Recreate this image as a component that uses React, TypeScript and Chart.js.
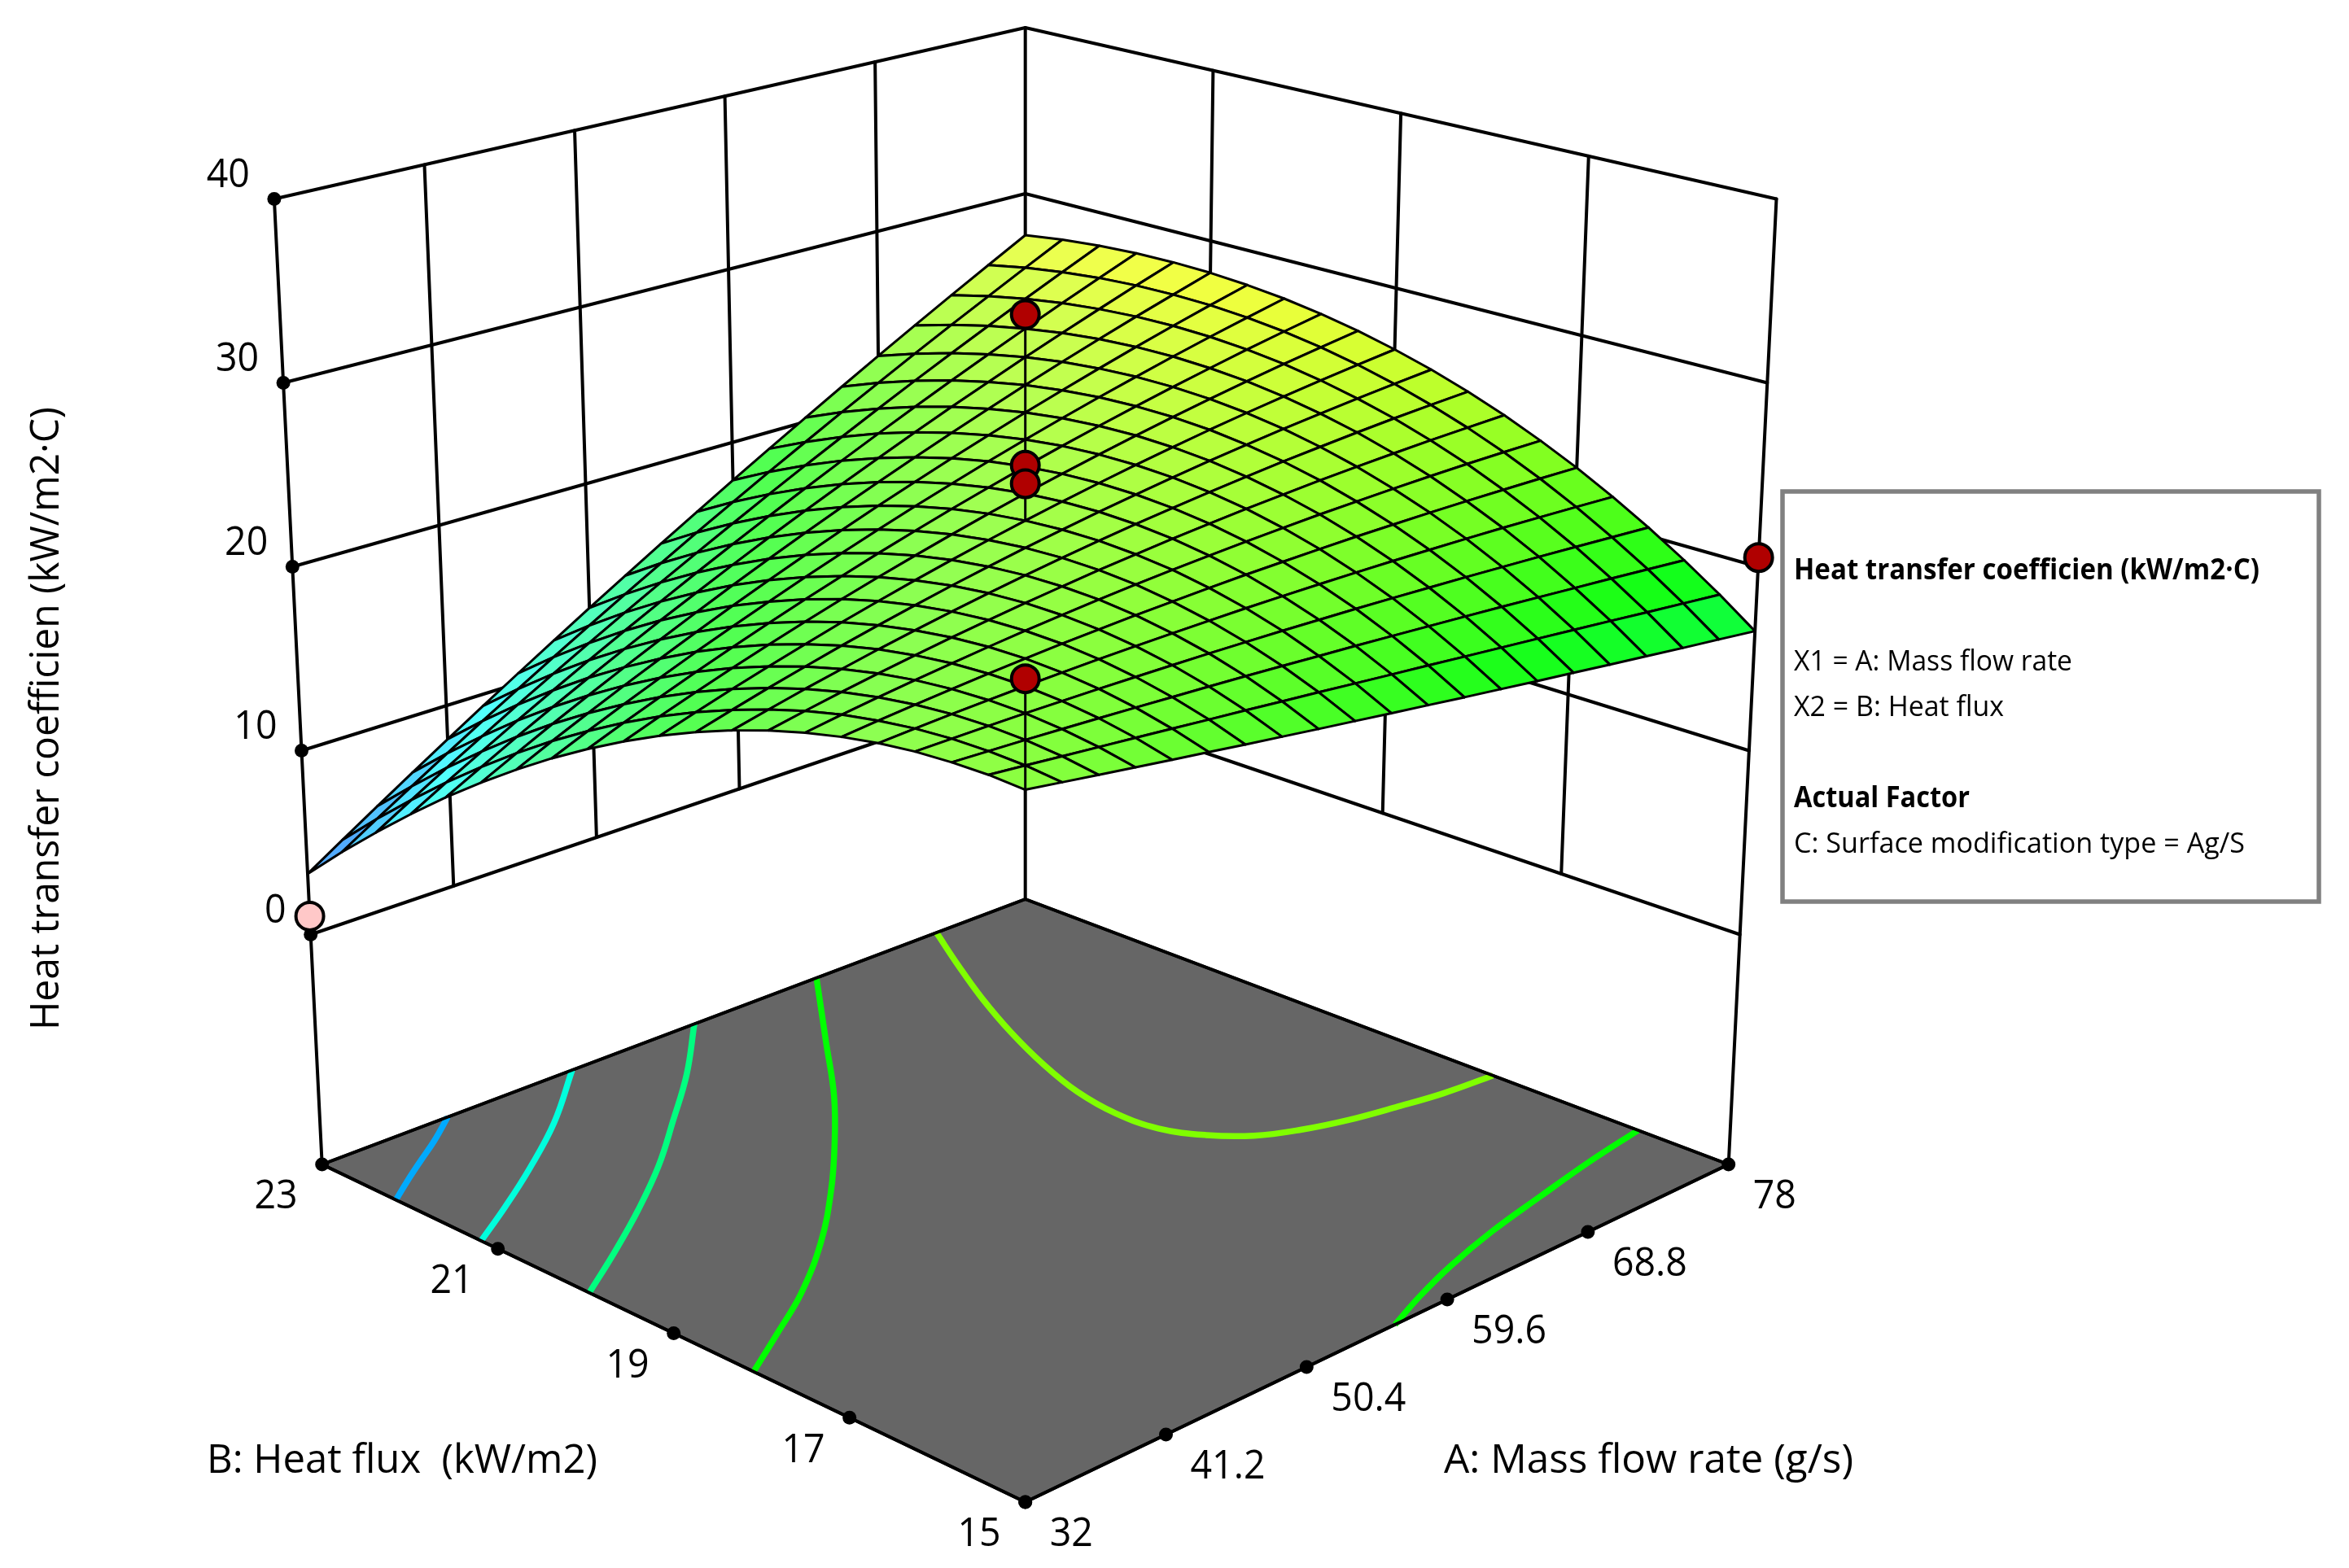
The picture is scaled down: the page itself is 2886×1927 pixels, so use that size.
import React, { useEffect, useRef } from "react";
import { Chart, registerables } from "chart.js";

Chart.register(...registerables);

const WIDTH = 2886;
const HEIGHT = 1927;
const FONT = '"Open Sans"';

// ---- data ----
const massFlowTicks = [32, 41.2, 50.4, 59.6, 68.8, 78];
const heatFluxTicks = [15, 17, 19, 21, 23];
const responseTicks = [0, 10, 20, 30, 40];
const massFlowLabels = ["32", "41.2", "50.4", "59.6", "68.8", "78"];
const heatFluxLabels = ["15", "17", "19", "21", "23"];
const responseLabels = ["0", "10", "20", "30", "40"];

// Mesh nodes: 21 mass flow values (32 to 78) for each of 21 heat flux values (15 to 23)
const meshMassFlow = [32, 34.3, 36.6, 38.9, 41.2, 43.5, 45.8, 48.1, 50.4, 52.7, 55, 57.3, 59.6, 61.9, 64.2, 66.5, 68.8, 71.1, 73.4, 75.7, 78];
const meshHeatFlux = [15, 15.4, 15.8, 16.2, 16.6, 17, 17.4, 17.8, 18.2, 18.6, 19, 19.4, 19.8, 20.2, 20.6, 21, 21.4, 21.8, 22.2, 22.6, 23];
const surfaceHTC = [
  [22.80, 22.49, 22.17, 21.86, 21.54, 21.23, 20.91, 20.60, 20.28, 19.97, 19.65, 19.34, 19.02, 18.71, 18.39, 18.08, 17.76, 17.45, 17.13, 16.82, 16.50],
  [22.86, 22.65, 22.43, 22.21, 21.99, 21.76, 21.53, 21.30, 21.06, 20.82, 20.57, 20.32, 20.07, 19.81, 19.55, 19.29, 19.02, 18.75, 18.47, 18.19, 17.91],
  [22.80, 22.69, 22.58, 22.45, 22.32, 22.18, 22.03, 21.88, 21.72, 21.55, 21.37, 21.19, 21.00, 20.80, 20.60, 20.39, 20.17, 19.94, 19.71, 19.47, 19.22],
  [22.65, 22.63, 22.61, 22.58, 22.53, 22.48, 22.41, 22.34, 22.26, 22.16, 22.06, 21.94, 21.82, 21.68, 21.53, 21.38, 21.21, 21.04, 20.85, 20.65, 20.45],
  [22.38, 22.46, 22.53, 22.58, 22.63, 22.66, 22.68, 22.68, 22.67, 22.65, 22.62, 22.57, 22.51, 22.44, 22.36, 22.26, 22.15, 22.03, 21.89, 21.74, 21.58],
  [22.00, 22.17, 22.33, 22.47, 22.60, 22.72, 22.82, 22.90, 22.97, 23.02, 23.06, 23.09, 23.09, 23.09, 23.07, 23.03, 22.98, 22.91, 22.83, 22.74, 22.63],
  [21.51, 21.78, 22.02, 22.25, 22.46, 22.66, 22.84, 23.00, 23.15, 23.28, 23.39, 23.48, 23.56, 23.62, 23.67, 23.69, 23.70, 23.70, 23.68, 23.64, 23.58],
  [20.92, 21.27, 21.60, 21.91, 22.20, 22.48, 22.74, 22.98, 23.20, 23.41, 23.59, 23.76, 23.91, 24.04, 24.15, 24.25, 24.32, 24.38, 24.42, 24.44, 24.45],
  [20.21, 20.64, 21.06, 21.45, 21.83, 22.18, 22.52, 22.84, 23.14, 23.42, 23.68, 23.92, 24.14, 24.34, 24.52, 24.69, 24.83, 24.96, 25.07, 25.15, 25.22],
  [19.40, 19.91, 20.41, 20.88, 21.34, 21.77, 22.18, 22.58, 22.95, 23.31, 23.64, 23.96, 24.25, 24.53, 24.79, 25.02, 25.24, 25.43, 25.61, 25.77, 25.91],
  [18.48, 19.07, 19.64, 20.19, 20.72, 21.24, 21.73, 22.20, 22.65, 23.08, 23.49, 23.88, 24.25, 24.60, 24.93, 25.25, 25.54, 25.81, 26.06, 26.29, 26.50],
  [17.45, 18.12, 18.76, 19.39, 20.00, 20.58, 21.15, 21.70, 22.22, 22.73, 23.22, 23.69, 24.13, 24.56, 24.97, 25.36, 25.73, 26.08, 26.41, 26.72, 27.01],
  [16.31, 17.05, 17.77, 18.47, 19.15, 19.81, 20.45, 21.07, 21.68, 22.26, 22.83, 23.37, 23.90, 24.41, 24.89, 25.36, 25.81, 26.24, 26.66, 27.05, 27.42],
  [15.07, 15.87, 16.66, 17.43, 18.19, 18.92, 19.63, 20.33, 21.01, 21.67, 22.32, 22.94, 23.55, 24.14, 24.71, 25.26, 25.79, 26.31, 26.81, 27.28, 27.75],
  [13.71, 14.59, 15.44, 16.28, 17.10, 17.91, 18.70, 19.47, 20.23, 20.97, 21.69, 22.39, 23.08, 23.75, 24.41, 25.04, 25.66, 26.27, 26.86, 27.43, 27.98],
  [12.25, 13.18, 14.11, 15.01, 15.90, 16.78, 17.64, 18.49, 19.32, 20.14, 20.94, 21.72, 22.49, 23.25, 23.99, 24.72, 25.43, 26.13, 26.81, 27.47, 28.13],
  [10.68, 11.67, 12.66, 13.63, 14.59, 15.53, 16.47, 17.38, 18.29, 19.19, 20.07, 20.94, 21.79, 22.64, 23.47, 24.28, 25.09, 25.88, 26.66, 27.43, 28.18],
  [8.99, 10.05, 11.09, 12.13, 13.15, 14.17, 15.17, 16.16, 17.15, 18.12, 19.08, 20.03, 20.98, 21.91, 22.83, 23.74, 24.64, 25.53, 26.42, 27.29, 28.15],
  [7.20, 8.31, 9.42, 10.51, 11.60, 12.68, 13.75, 14.82, 15.88, 16.93, 17.97, 19.01, 20.04, 21.06, 22.08, 23.09, 24.09, 25.08, 26.07, 27.05, 28.02],
  [5.31, 6.47, 7.62, 8.78, 9.93, 11.07, 12.22, 13.35, 14.49, 15.62, 16.75, 17.87, 18.99, 20.10, 21.22, 22.32, 23.43, 24.53, 25.62, 26.72, 27.81],
  [3.30, 4.51, 5.72, 6.93, 8.14, 9.35, 10.56, 11.77, 12.98, 14.19, 15.40, 16.61, 17.82, 19.03, 20.24, 21.45, 22.66, 23.87, 25.08, 26.29, 27.50],
];

// Contours on the floor, as [mass flow, heat flux] pairs
const contour5: number[][] = [[40.22, 23], [37.91, 22.75], [35.86, 22.55], [33.94, 22.36], [32, 22.16]];
const contour10: number[][] = [[48.36, 23], [43.55, 22.37], [39.11, 21.88], [35.42, 21.51], [32, 21.19]];
const contour15: number[][] = [[56.35, 23], [52.06, 22.34], [47.96, 21.78], [43.89, 21.24], [39.86, 20.77], [36.01, 20.36], [32, 19.96]];
const contour20Left: number[][] = [[64.34, 23], [59.44, 22.04], [55.37, 21.24], [51.55, 20.57], [47.93, 19.98], [43.7, 19.36], [39.24, 18.81], [35.67, 18.45], [32, 18.09]];
const contour25: number[][] = [[72.19, 23], [70.12, 22.39], [68.2, 21.79], [66.36, 21.14], [64.82, 20.5], [63.75, 19.93], [63.28, 19.41], [63.47, 18.96], [64.48, 18.59], [65.94, 18.3], [67.9, 18.1], [70.11, 17.95], [72.54, 17.84], [75.07, 17.74], [78, 17.68]];
const contour20Right: number[][] = [[78, 16.03], [74.07, 15.91], [70.08, 15.76], [65.99, 15.6], [62.22, 15.41], [59.04, 15.21], [56.19, 15]];

// Design points as [mass flow, heat flux, response]
const pointsAbove: number[][] = [[55, 19, 34.7], [55, 19, 26.5], [55, 19, 25.5], [32, 15, 28.3], [78, 15, 20.5]];
const pointsBelow: number[][] = [[32, 23, 1]];
// Stems from a design point down to the surface: [mass flow, heat flux, from, to]
const stems: number[][] = [[55, 19, 34.7, 23.49], [32, 15, 28.3, 22.8]];

const legendLines = [
  "Heat transfer coefficien (kW/m2·C)",
  "X1 = A: Mass flow rate",
  "X2 = B: Heat flux",
  "Actual Factor",
  "C: Surface modification type = Ag/S",
];
const axisTitleA = "A: Mass flow rate (g/s)";
const axisTitleB = "B: Heat flux  (kW/m2)";
const axisTitleZ = "Heat transfer coefficien (kW/m2·C)";

// ---- view of the box ----
const A_MIN = 32, A_MAX = 78, B_MIN = 15, B_MAX = 23;
const FLOOR = -12.5, Z_MAX = 40;

function project(a: number, b: number, z: number) {
  const u = (a - A_MIN) / (A_MAX - A_MIN);
  const v = (b - B_MIN) / (B_MAX - B_MIN);
  const h = z - FLOOR;
  const d = u - v;
  const s = u + v;
  return {
    x: 1259.7 + d * (864 + 1.12 * h),
    y: 1846 - 415 * s + 89 * u * v - (24.8 - 2.2 * s) * h,
  };
}

// ---- colours ----
function mapColour(z: number): number[] {
  const t = Math.max(0, Math.min(1, z / 38));
  const stops = [[0, 0, 255], [0, 255, 255], [0, 255, 0], [255, 255, 0], [255, 0, 0]];
  const p = t * 4;
  const i = Math.min(3, Math.floor(p));
  const f = p - i;
  return stops[i].map((c, k) => c + (stops[i + 1][k] - c) * f);
}
const css = (c: number[]) => `rgb(${c.map((n) => Math.round(n)).join(",")})`;
function cellColour(z: number, slope: number) {
  const w = Math.max(0.03, Math.min(0.32, 0.27 - 0.015 * slope));
  return css(mapColour(z).map((c) => c + (255 - c) * w));
}

// ---- datasets, listed back to front ----
function lineSet(points: { x: number; y: number }[], extra: object = {}) {
  return {
    type: "scatter" as const,
    data: points,
    showLine: true,
    fill: false,
    borderColor: "#000",
    borderWidth: 4,
    borderJoinStyle: "round" as const,
    borderCapStyle: "round" as const,
    pointRadius: 0,
    pointHoverRadius: 0,
    ...extra,
  };
}
function dotSet(points: { x: number; y: number }[], radius: number, fillColour: string, border: number) {
  return {
    type: "scatter" as const,
    data: points,
    showLine: false,
    pointRadius: radius,
    pointHoverRadius: radius,
    backgroundColor: fillColour,
    borderColor: "#000",
    pointBorderColor: "#000",
    pointBackgroundColor: fillColour,
    pointBorderWidth: border,
  };
}

function buildDatasets() {
  const sets: any[] = [];
  // walls
  responseTicks.forEach((z) => {
    sets.push(lineSet([project(A_MIN, B_MAX, z), project(A_MAX, B_MAX, z), project(A_MAX, B_MIN, z)]));
  });
  massFlowTicks.slice(1, -1).forEach((a) => {
    sets.push(lineSet([project(a, B_MAX, 0), project(a, B_MAX, Z_MAX)]));
  });
  heatFluxTicks.slice(1, -1).forEach((b) => {
    sets.push(lineSet([project(A_MAX, b, 0), project(A_MAX, b, Z_MAX)]));
  });
  // floor
  sets.push(
    lineSet(
      [
        project(A_MIN, B_MIN, FLOOR),
        project(A_MAX, B_MIN, FLOOR),
        project(A_MAX, B_MAX, FLOOR),
        project(A_MIN, B_MAX, FLOOR),
        project(A_MIN, B_MIN, FLOOR),
      ],
      { fill: "shape", backgroundColor: "#666666" }
    )
  );
  // corner posts
  [
    [A_MIN, B_MAX],
    [A_MAX, B_MAX],
    [A_MAX, B_MIN],
  ].forEach(([a, b]) => {
    sets.push(lineSet([project(a, b, FLOOR), project(a, b, Z_MAX)]));
  });
  // contours
  const contours: [number[][], string][] = [
    [contour5, "#00aaff"],
    [contour10, "#00ffdd"],
    [contour15, "#00ff80"],
    [contour20Left, "#00ff00"],
    [contour25, "#80ff00"],
    [contour20Right, "#00ff00"],
  ];
  contours.forEach(([pts, colour]) => {
    sets.push(
      lineSet(pts.map(([a, b]) => project(a, b, FLOOR)), {
        borderColor: colour,
        borderWidth: 7.5,
        tension: 0.4,
        borderCapStyle: "butt",
      })
    );
  });
  sets.push(
    lineSet([project(A_MIN, B_MAX, FLOOR), project(A_MIN, B_MIN, FLOOR), project(A_MAX, B_MIN, FLOOR)])
  );
  sets.push(
    lineSet([project(A_MIN, B_MAX, FLOOR), project(A_MAX, B_MAX, FLOOR), project(A_MAX, B_MIN, FLOOR)])
  );
  // tick dots
  const tickDots = [
    ...responseTicks.map((z) => project(A_MIN, B_MAX, z)),
    ...massFlowTicks.map((a) => project(a, B_MIN, FLOOR)),
    ...heatFluxTicks.map((b) => project(A_MIN, b, FLOOR)),
  ];
  sets.push(dotSet(tickDots, 8.5, "#000", 0));
  // surface cells, far ones first
  const cells: { order: number; set: any }[] = [];
  for (let j = 0; j < meshHeatFlux.length - 1; j++) {
    for (let i = 0; i < meshMassFlow.length - 1; i++) {
      const z00 = surfaceHTC[j][i], z10 = surfaceHTC[j][i + 1], z01 = surfaceHTC[j + 1][i], z11 = surfaceHTC[j + 1][i + 1];
      const mean = (z00 + z10 + z01 + z11) / 4;
      const slope = ((z01 + z11 - z00 - z10) / 2) / 0.1;
      cells.push({
        order: i + j,
        set: lineSet(
          [
            project(meshMassFlow[i], meshHeatFlux[j], z00),
            project(meshMassFlow[i + 1], meshHeatFlux[j], z10),
            project(meshMassFlow[i + 1], meshHeatFlux[j + 1], z11),
            project(meshMassFlow[i], meshHeatFlux[j + 1], z01),
            project(meshMassFlow[i], meshHeatFlux[j], z00),
          ],
          { fill: "shape", backgroundColor: cellColour(mean, slope), borderWidth: 3 }
        ),
      });
    }
  }
  cells.sort((p, q) => q.order - p.order);
  cells.forEach((c) => sets.push(c.set));
  // stems from design points to the surface
  stems.forEach(([a, b, from, to]) => {
    sets.push(lineSet([project(a, b, from), project(a, b, to)], { borderWidth: 3, borderCapStyle: "butt" }));
  });
  // design points
  sets.push(dotSet(pointsBelow.map(([a, b, z]) => project(a, b, z)), 17, "#ffc8c8", 4));
  pointsAbove.forEach(([a, b, z]) => {
    sets.push(dotSet([project(a, b, z)], 17, "#b00000", 4));
  });
  return sets.reverse(); // Chart.js paints the last dataset first
}

// ---- text and the legend panel ----
const textPlugin = {
  id: "boxText",
  afterDatasetsDraw(chart: any) {
    const ctx: CanvasRenderingContext2D = chart.ctx;
    const sx = chart.scales.x, sy = chart.scales.y;
    const at = (p: { x: number; y: number }) => ({ x: sx.getPixelForValue(p.x), y: sy.getPixelForValue(p.y) });
    ctx.save();
    ctx.fillStyle = "#000";
    ctx.textBaseline = "middle";
    ctx.font = `50px ${FONT}`;
    const squeeze = 0.93;
    const put = (t: string, x: number, y: number, align: CanvasTextAlign) => {
      ctx.textAlign = align;
      ctx.fillText(t, x, y, ctx.measureText(t).width * squeeze);
    };
    responseTicks.forEach((z, i) => {
      const p = at(project(A_MIN, B_MAX, z));
      put(responseLabels[i], p.x - 30, p.y - 29, "right");
    });
    massFlowTicks.forEach((a, i) => {
      const p = at(project(a, B_MIN, FLOOR));
      put(massFlowLabels[i], p.x + 30, p.y + 40, "left");
    });
    heatFluxTicks.forEach((b, i) => {
      const p = at(project(A_MIN, b, FLOOR));
      put(heatFluxLabels[i], p.x - 30, p.y + 40, "right");
    });
    ctx.textAlign = "left";
    ctx.font = `50px ${FONT}`;
    ctx.fillText(axisTitleA, 1774, 1796, 503);
    ctx.fillText(axisTitleB, 254, 1796, 480);
    ctx.save();
    ctx.translate(58, 883);
    ctx.rotate(-Math.PI / 2);
    ctx.textAlign = "center";
    ctx.fillText(axisTitleZ, 0, 0, 766);
    ctx.restore();

    // legend panel
    ctx.strokeStyle = "#808080";
    ctx.lineWidth = 5.5;
    ctx.fillStyle = "#fff";
    ctx.fillRect(2190, 604, 659, 504);
    ctx.strokeRect(2190, 604, 659, 504);
    ctx.fillStyle = "#000";
    ctx.textAlign = "left";
    ctx.textBaseline = "alphabetic";
    const rows: [number, number, boolean, number][] = [
      [0, 712, true, 572],
      [1, 824, false, 342],
      [2, 880, false, 258],
      [3, 992, true, 216],
      [4, 1048, false, 554],
    ];
    rows.forEach(([idx, y, bold, w]) => {
      ctx.font = `${bold ? "700 " : ""}35px ${FONT}`;
      ctx.fillText(legendLines[idx], 2204, y, w);
    });
    ctx.restore();
  },
};

export default function App() {
  const ref = useRef<HTMLCanvasElement>(null);
  useEffect(() => {
    document.body.style.margin = "0";
    document.body.style.background = "#fff";
    const chart = new Chart(ref.current as HTMLCanvasElement, {
      type: "scatter",
      data: { datasets: buildDatasets() },
      options: {
        animation: false,
        responsive: false,
        events: [],
        layout: { padding: 0, autoPadding: false },
        elements: { line: { tension: 0 } },
        plugins: { legend: { display: false }, tooltip: { enabled: false }, title: { display: false } },
        scales: {
          x: { type: "linear", display: false, min: 0, max: WIDTH },
          y: { type: "linear", display: false, min: 0, max: HEIGHT, reverse: true },
        },
      },
      plugins: [textPlugin],
    } as any);
    return () => chart.destroy();
  }, []);
  return (
    <div style={{ width: WIDTH, height: HEIGHT, background: "#fff" }}>
      <canvas ref={ref} width={WIDTH} height={HEIGHT} style={{ display: "block" }} />
    </div>
  );
}
